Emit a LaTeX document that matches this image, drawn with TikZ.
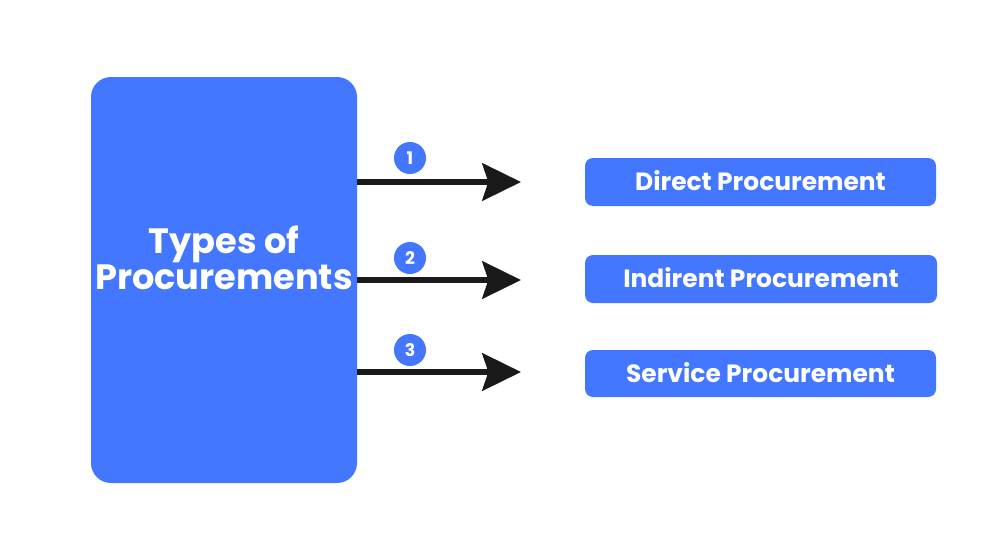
\documentclass[tikz,border=0pt]{standalone}
\usepackage{fontspec}
\setmainfont{Poppins}
\usetikzlibrary{arrows.meta}
\definecolor{pblue}{HTML}{4477FF}
\tikzset{
  bigbox/.style={fill=pblue, rounded corners=15pt},
  typebox/.style={fill=pblue, rounded corners=6pt},
  typetext/.style={text=white, font=\fontsize{18.7pt}{21pt}\selectfont\bfseries},
  numcircle/.style={circle, fill=pblue, minimum size=24pt, inner sep=0pt, text=white, font=\fontsize{13pt}{14pt}\selectfont\bfseries},
  bigarrow/.style={line width=4.5pt, draw=black!90, -{Stealth[length=29pt, width=28pt, inset=4.5pt]}}
}
\begin{document}
\begin{tikzpicture}[x=0.75pt, y=-0.75pt]
\useasboundingbox (0,0) rectangle (1000,550);
\fill[white] (0,0) rectangle (1000,550);
% main box
\fill[bigbox] (91,77) rectangle (357,483);
\node[text=white, font=\fontsize{26.4pt}{27pt}\selectfont\bfseries, align=center] (main) at (224,258) {Types of\\Procurements};
\coordinate (m1) at (357,182);
\coordinate (m2) at (357,280);
\coordinate (m3) at (357,372);
\coordinate (e1) at (521,182);
\coordinate (e2) at (521,280);
\coordinate (e3) at (521,372);
\draw[bigarrow] (m1) -- (e1);
\draw[bigarrow] (m2) -- (e2);
\draw[bigarrow] (m3) -- (e3);
\node[numcircle] (c1) at (410,158) {1};
\node[numcircle] (c2) at (410,258) {2};
\node[numcircle] (c3) at (410,350) {3};
% type boxes
\fill[typebox] (585,158) rectangle (936,206);
\node[typetext] (t1) at (760.5,181) {Direct Procurement};
\fill[typebox] (585,255) rectangle (937,303);
\node[typetext] (t2) at (761,278) {Indirent Procurement};
\fill[typebox] (585,350) rectangle (936,397);
\node[typetext] (t3) at (760.5,372.5) {Service Procurement};
\end{tikzpicture}
\end{document}
